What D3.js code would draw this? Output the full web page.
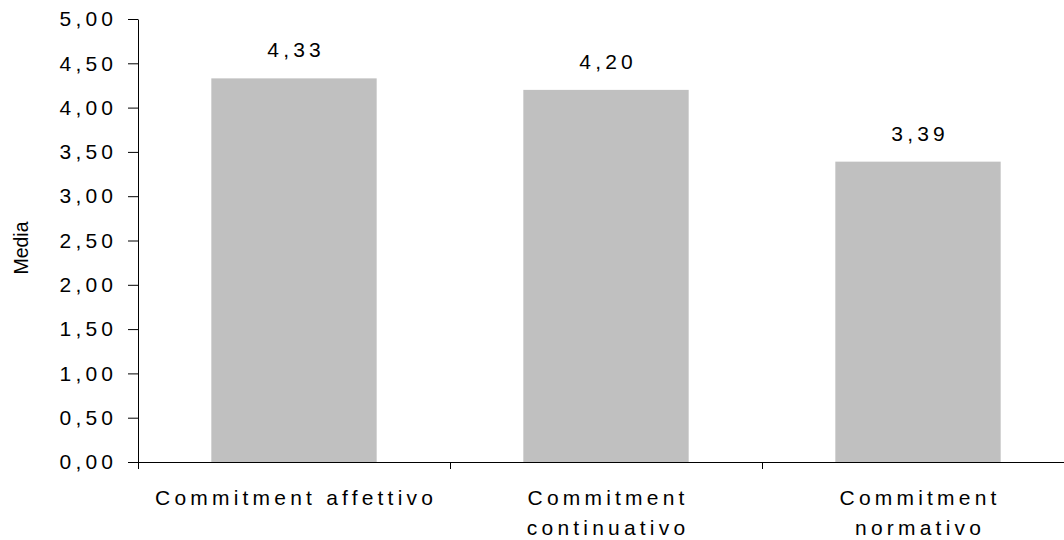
<!DOCTYPE html>
<html>
<head>
<meta charset="utf-8">
<script src="https://cdn.jsdelivr.net/npm/d3@7"></script>
<style>
  html, body { margin: 0; padding: 0; background: #fff; }
  svg { display: block; }
  text { font-family: "Liberation Sans", Arial, sans-serif; fill: #000; }
</style>
</head>
<body>
<svg id="chart" width="1064" height="540"></svg>
<script>
// Mean commitment scores per dimension
const categories = ["Commitment affettivo", "Commitment continuativo", "Commitment normativo"];
const labelLines = [["Commitment affettivo"], ["Commitment", "continuativo"], ["Commitment", "normativo"]];
const values = [4.33, 4.20, 3.39];
const yTicks = [0, 0.5, 1, 1.5, 2, 2.5, 3, 3.5, 4, 4.5, 5];

const fmt = v => d3.format(".2f")(v).replace(".", ",");

const svg = d3.select("#chart");
const plotLeft = 138, plotRight = 1074, plotTop = 19, plotBottom = 462;
const FS = "21px";
const LS = 4.2; // letter spacing of the text

const x = d3.scaleBand().domain(categories).range([plotLeft, plotRight]).padding(0);
const y = d3.scaleLinear().domain([0, 5]).range([plotBottom, plotTop]);
const barW = x.bandwidth() * 0.53;

// bars
svg.append("g").selectAll("rect")
  .data(values)
  .join("rect")
  .attr("x", (d, i) => x(categories[i]) + (x.bandwidth() - barW) / 2)
  .attr("y", d => y(d))
  .attr("width", barW)
  .attr("height", d => y(0) - y(d))
  .attr("fill", "#c0c0c0");

// value labels
svg.append("g").selectAll("text")
  .data(values)
  .join("text")
  .attr("x", (d, i) => x(categories[i]) + x.bandwidth() / 2 + LS / 2)
  .attr("y", d => y(d) - 21)
  .attr("text-anchor", "middle")
  .style("font-size", FS)
  .style("letter-spacing", LS + "px")
  .text(d => fmt(d));

// y axis
const yAxis = svg.append("g")
  .attr("transform", `translate(${plotLeft},0)`)
  .call(d3.axisLeft(y).tickValues(yTicks).tickFormat(fmt).tickSize(10).tickSizeOuter(0).tickPadding(15 - LS));
yAxis.select(".domain").attr("stroke", "#000");
yAxis.selectAll(".tick line").attr("stroke", "#000");
yAxis.selectAll(".tick text")
  .style("font-size", FS)
  .style("letter-spacing", LS + "px")
  .style("font-family", "'Liberation Sans', Arial, sans-serif")
  .attr("fill", "#000");

// x axis
const xAxis = svg.append("g")
  .attr("transform", `translate(0,${plotBottom})`)
  .call(d3.axisBottom(d3.scaleLinear().domain([0, 3]).range([plotLeft, plotRight]))
    .tickValues([0, 1, 2, 3]).tickSize(7).tickSizeOuter(0).tickFormat(""));
xAxis.select(".domain").attr("stroke", "#000");
xAxis.selectAll(".tick line").attr("stroke", "#000");

// category labels
const catG = svg.append("g");
labelLines.forEach((lines, i) => {
  const cx = x(categories[i]) + x.bandwidth() / 2 + LS / 2;
  const t = catG.append("text")
    .attr("x", cx)
    .attr("y", 505)
    .attr("text-anchor", "middle")
    .style("font-size", FS)
    .style("letter-spacing", LS + "px");
  lines.forEach((ln, j) => {
    t.append("tspan")
      .attr("x", cx)
      .attr("dy", j === 0 ? 0 : 30)
      .text(ln);
  });
});

// y axis title
svg.append("text")
  .attr("transform", `translate(28,248) rotate(-90)`)
  .attr("text-anchor", "middle")
  .style("font-size", "19.5px")
  .text("Media");
</script>
</body>
</html>
